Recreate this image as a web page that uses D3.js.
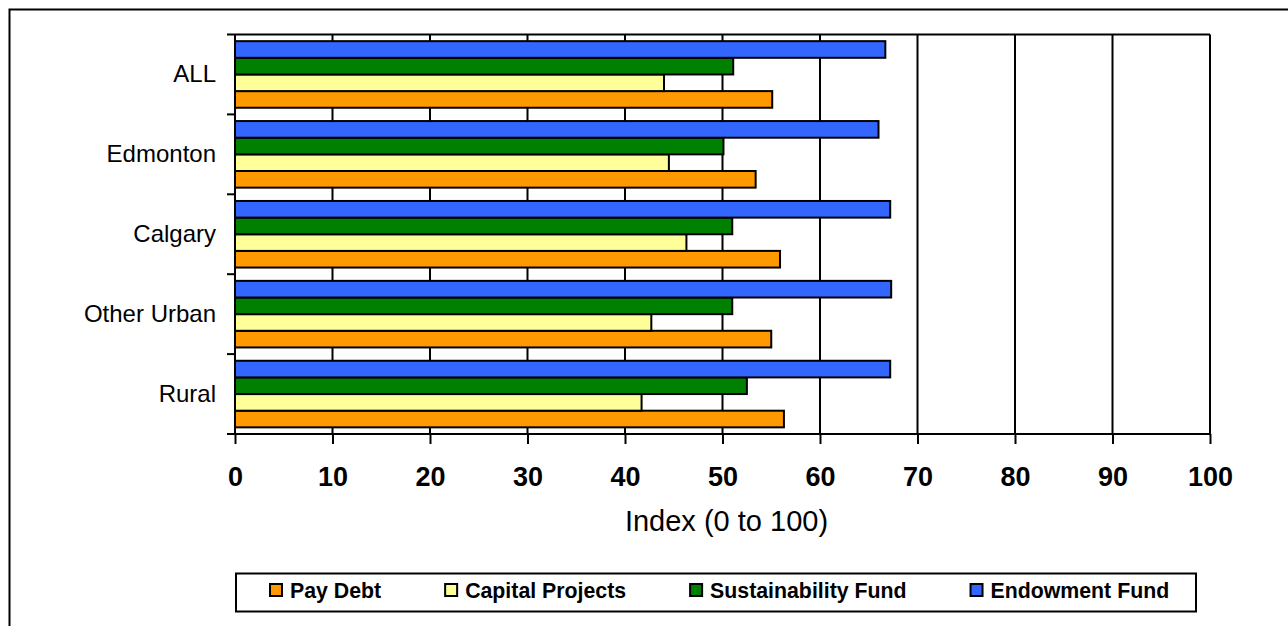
<!DOCTYPE html>
<html>
<head>
<meta charset="utf-8">
<script src="https://cdn.jsdelivr.net/npm/d3@7"></script>
<style>
    body { margin: 0; background: #fff; }
    text { font-family: "Liberation Sans", Arial, sans-serif; fill: #000; }
</style>
</head>
<body>
<div id="chart"></div>
<script>
var categories = ["ALL", "Edmonton", "Calgary", "Other Urban", "Rural"];
var payDebt = [55.1, 53.4, 55.9, 55.0, 56.3];
var capitalProjects = [44.0, 44.5, 46.3, 42.7, 41.7];
var sustainabilityFund = [51.1, 50.1, 51.0, 51.0, 52.5];
var endowmentFund = [66.7, 66.0, 67.2, 67.3, 67.2];
var xTicks = [0, 10, 20, 30, 40, 50, 60, 70, 80, 90, 100];

// legend order, left to right
var series = [
    { name: "Pay Debt", values: payDebt, color: "#FF9900" },
    { name: "Capital Projects", values: capitalProjects, color: "#FFFF99" },
    { name: "Sustainability Fund", values: sustainabilityFund, color: "#008000" },
    { name: "Endowment Fund", values: endowmentFund, color: "#3366FF" }
];

var width = 1288, height = 626;
var plot = { left: 235, right: 1210, top: 34.5, bottom: 434 };

var svg = d3.select("#chart").append("svg")
    .attr("width", width)
    .attr("height", height);

// outer chart frame (runs off the right and bottom edge)
svg.append("rect")
    .attr("x", 9.5).attr("y", 9.5)
    .attr("width", 1300).attr("height", 700)
    .attr("fill", "#fff")
    .attr("stroke", "#000")
    .attr("stroke-width", 2);

//Scale definition
var x = d3.scaleLinear()
    .domain([0, 100])
    .range([plot.left, plot.right]);
var y = d3.scaleBand()
    .domain(categories)
    .range([plot.top, plot.bottom]);
// bars inside a category, top to bottom
var yInner = d3.scaleBand()
    .domain(series.map(d => d.name).reverse())
    .range([0, y.bandwidth()])
    .paddingInner(0)
    .paddingOuter(0.4);

// vertical gridlines
svg.append("g")
    .selectAll("line")
    .data(xTicks.slice(1))
    .enter()
    .append("line")
        .attr("x1", d => x(d)).attr("x2", d => x(d))
        .attr("y1", plot.top).attr("y2", plot.bottom)
        .attr("stroke", "#000")
        .attr("stroke-width", 2);

// top border of plot
svg.append("line")
    .attr("x1", plot.left).attr("x2", plot.right)
    .attr("y1", plot.top).attr("y2", plot.top)
    .attr("stroke", "#000")
    .attr("stroke-width", 2);

// bars
var groups = svg.append("g")
    .selectAll(".cat")
    .data(categories)
    .enter()
    .append("g")
        .attr("class", "cat")
        .attr("transform", d => "translate(0," + y(d) + ")");

groups.selectAll("rect")
    .data((c, i) => series.map(s => ({ name: s.name, color: s.color, value: s.values[i] })))
    .enter()
    .append("rect")
        .attr("x", x(0))
        .attr("y", d => yInner(d.name))
        .attr("width", d => x(d.value) - x(0))
        .attr("height", yInner.bandwidth())
        .attr("fill", d => d.color)
        .attr("stroke", "#000")
        .attr("stroke-width", 2);

// y axis
var yAxis = svg.append("g")
    .attr("transform", "translate(" + plot.left + ",0)")
    .call(d3.axisLeft(y).tickSize(0).tickPadding(19));
yAxis.select(".domain").remove();
yAxis.selectAll("text")
    .style("font-size", "24px")
    .style("font-family", "'Liberation Sans', Arial, sans-serif");

// category separator ticks
svg.append("g")
    .selectAll("line")
    .data(categories.concat(["end"]))
    .enter()
    .append("line")
        .attr("x1", plot.left - 8).attr("x2", plot.left)
        .attr("y1", (d, i) => i < categories.length ? y(d) : plot.bottom)
        .attr("y2", (d, i) => i < categories.length ? y(d) : plot.bottom)
        .attr("stroke", "#000")
        .attr("stroke-width", 2);

svg.append("line")
    .attr("x1", plot.left).attr("x2", plot.left)
    .attr("y1", plot.top).attr("y2", plot.bottom)
    .attr("stroke", "#000")
    .attr("stroke-width", 2);

// x axis
var xAxis = svg.append("g")
    .attr("transform", "translate(0," + plot.bottom + ")")
    .call(d3.axisBottom(x).tickValues(xTicks).tickSize(10).tickPadding(23));
xAxis.select(".domain")
    .attr("stroke-width", 2)
    .attr("d", "M" + plot.left + ",0H" + plot.right);
xAxis.selectAll(".tick line").attr("stroke-width", 2);
xAxis.selectAll("text")
    .style("font-size", "27px")
    .style("font-weight", "bold")
    .style("font-family", "'Liberation Sans', Arial, sans-serif");

svg.append("text")
    .attr("x", (plot.left + plot.right) / 2 + 4)
    .attr("y", 531)
    .attr("text-anchor", "middle")
    .style("font-size", "29px")
    .text("Index (0 to 100)");

// legend
var legend = svg.append("g");
legend.append("rect")
    .attr("x", 236).attr("y", 573.5)
    .attr("width", 960).attr("height", 38)
    .attr("fill", "#fff")
    .attr("stroke", "#000")
    .attr("stroke-width", 2);

var lx = 270;
series.forEach(function (s) {
    legend.append("rect")
        .attr("x", lx).attr("y", 584)
        .attr("width", 12).attr("height", 12)
        .attr("fill", s.color)
        .attr("stroke", "#000")
        .attr("stroke-width", 2);
    var t = legend.append("text")
        .attr("x", lx + 20)
        .attr("y", 598)
        .style("font-size", "21.3px")
        .style("font-weight", "bold")
        .text(s.name);
    lx += 20 + t.node().getComputedTextLength() + 64;
});
</script>
</body>
</html>
